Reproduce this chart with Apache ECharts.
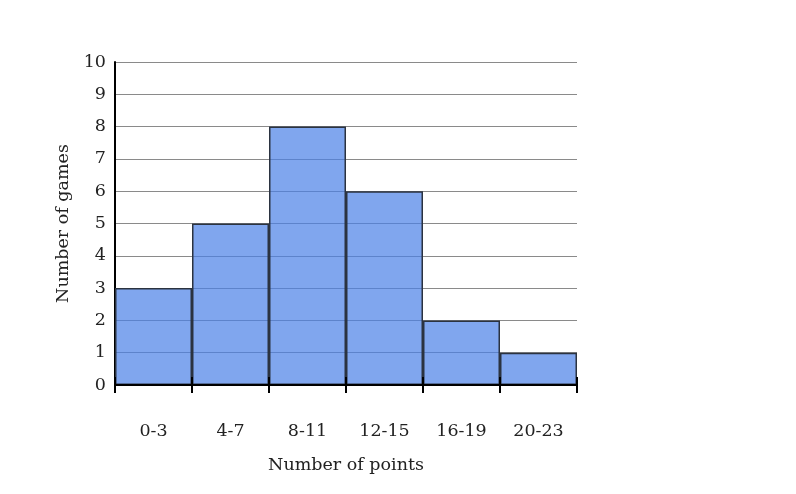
<!DOCTYPE html>
<html><head><meta charset="utf-8">
<script src="https://cdn.jsdelivr.net/npm/echarts@6/dist/echarts.min.js"></script>
<style>html,body{margin:0;padding:0;background:#fff}#c{width:796px;height:494px}</style>
</head><body><div id="c"></div>
<script>
const categories = ['0-3','4-7','8-11','12-15','16-19','20-23'];
const games = [3,5,8,6,2,1];
const yMin = 0, yMax = 10, yStep = 1;

const font = '"DejaVu Serif", "Liberation Serif", serif';
const chart = echarts.init(document.getElementById('c'));
const baseX = {
  type: 'category', data: categories, position: 'bottom',
  boundaryGap: true, z: 10,
  axisLine: {show: true, lineStyle: {color: '#000', width: 2}},
  splitLine: {show: false}
};
chart.setOption({
  animation: false,
  grid: {left: 115, right: 219, top: 62, bottom: 109, containLabel: false},
  xAxis: [
    Object.assign({}, baseX, {
      axisTick: {show: true, alignWithLabel: false, length: 8, inside: false, lineStyle: {color: '#000', width: 2}},
      axisLabel: {show: true, margin: 37, fontFamily: font, fontSize: 17.5, color: '#222'},
      name: 'Number of points', nameLocation: 'middle', nameGap: 71,
      nameTextStyle: {fontFamily: font, fontSize: 17.5, color: '#222'}
    }),
    Object.assign({}, baseX, {
      axisTick: {show: true, length: 8, inside: true, lineStyle: {color: '#000', width: 2}},
      axisLabel: {show: false}
    })
  ],
  yAxis: {
    type: 'value', min: yMin, max: yMax, interval: yStep,
    axisLine: {show: true, lineStyle: {color: '#000', width: 2}},
    axisTick: {show: false},
    axisLabel: {margin: 9, fontFamily: font, fontSize: 17.5, color: '#222'},
    splitLine: {show: true, lineStyle: {color: '#8a8a8a', width: 1}},
    name: 'Number of games', nameLocation: 'middle', nameGap: 37,
    nameTextStyle: {fontFamily: font, fontSize: 17.5, color: '#222'}
  },
  series: [{
    type: 'bar', data: games, xAxisIndex: 0,
    barWidth: '100%', barCategoryGap: 0,
    itemStyle: {color: 'rgba(74,128,231,0.7)', borderColor: '#2b3340', borderWidth: 1.5}
  }]
});
</script></body></html>
